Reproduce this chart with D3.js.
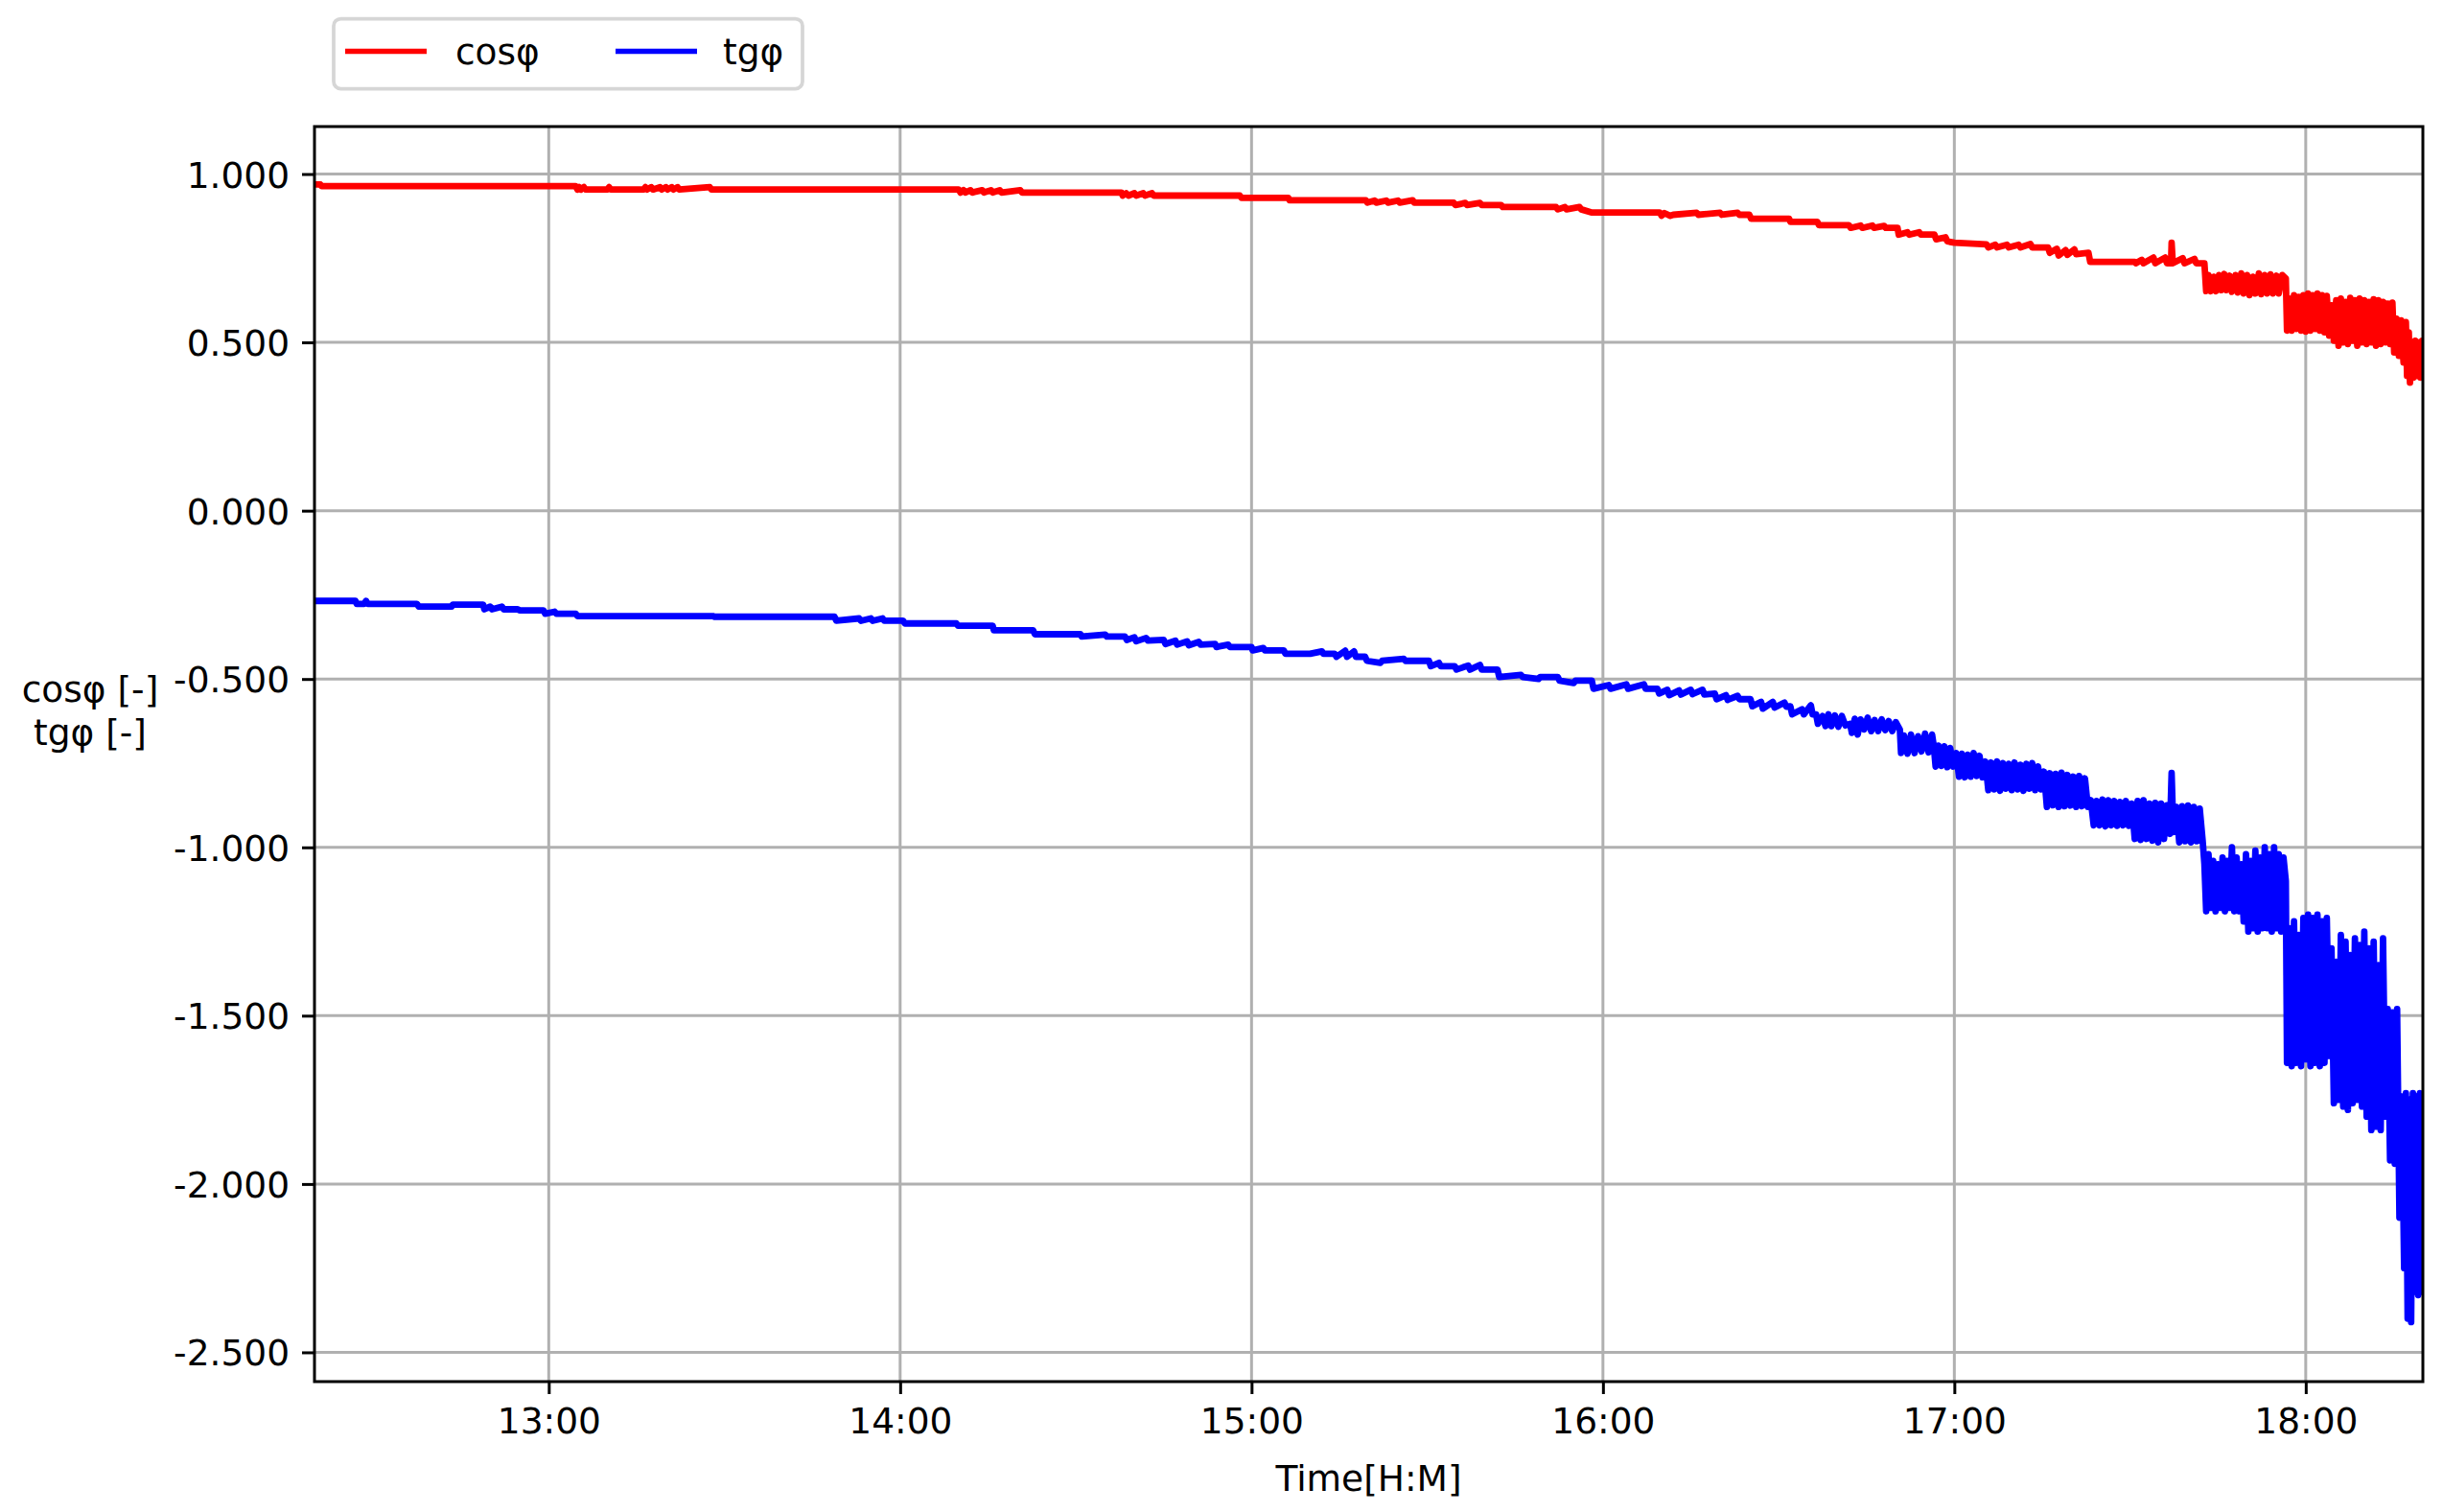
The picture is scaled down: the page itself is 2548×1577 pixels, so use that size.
<!DOCTYPE html>
<html>
<head>
<meta charset="utf-8">
<script src="https://cdn.jsdelivr.net/npm/d3@7"></script>
<style>
  html, body { margin: 0; padding: 0; background: #ffffff; }
  svg { display: block; }
  text { font-family: "DejaVu Sans", sans-serif; }
</style>
</head>
<body>
<svg id="chart" width="2548" height="1577"></svg>
<script>
// ---- DATA (time = minutes after 12:00, value) ----
const seriesNames = ["cosφ", "tgφ"];
const xTickLabels = ["13:00", "14:00", "15:00", "16:00", "17:00", "18:00"];
const yTickValues = [1.0, 0.5, 0.0, -0.5, -1.0, -1.5, -2.0, -2.5];
const timeRange = ["12:20", "18:20"];
const yLabelLines = ["cosφ [-]", "tgφ [-]"];
const xLabel = "Time[H:M]";

const cosPoints = [
[20,0.969],[21,0.969],[21.2,0.964],[64.6,0.964],[64.9,0.954],[65.2,0.961],[65.5,0.954],[66,0.961],[66.3,0.954],[70,0.954],[70.3,0.961],[70.6,0.954],
[76.2,0.954],[76.5,0.961],[76.8,0.954],[77.5,0.961],[77.8,0.954],[79,0.961],[79.3,0.954],[80,0.961],[80.3,0.954],[81,0.961],[81.3,0.954],[82,0.961],[82.3,0.954],[87.5,0.961],[87.8,0.954],
[130,0.954],[130.3,0.945],[130.8,0.952],[131.1,0.945],[132,0.952],[132.3,0.945],[134,0.952],[134.3,0.945],[135.5,0.952],[135.8,0.945],[137,0.952],[137.3,0.945],[140.5,0.952],[140.8,0.945],
[157.8,0.945],[158,0.936],[158.6,0.943],[159,0.936],[160,0.943],[160.3,0.936],[161.5,0.943],[161.8,0.936],[163,0.943],[163.3,0.936],[178,0.936],[178.3,0.929],
[186.3,0.929],[186.5,0.922],[199.5,0.922],[199.8,0.915],[201,0.921],[201.3,0.915],[203,0.921],[203.3,0.915],[205,0.921],[205.3,0.915],[207.5,0.922],[207.8,0.915],
[214.5,0.915],[214.8,0.908],[216.5,0.914],[216.8,0.908],[219,0.914],[219.3,0.908],[222.6,0.908],[222.9,0.902],[232,0.902],[232.3,0.895],[233.5,0.902],[233.8,0.895],[236,0.902],[236.3,0.895],[238,0.886],
[249.7,0.886],[250,0.876],[250.5,0.884],[251.5,0.876],[252,0.879],[256,0.885],[256.3,0.879],[260,0.885],[260.3,0.879],[263,0.885],[263.3,0.879],[265,0.879],[265.3,0.867],
[271.8,0.867],[272,0.858],[276.6,0.858],[276.9,0.848],[282,0.848],[282.3,0.840],[284,0.847],[284.3,0.840],[286,0.847],[286.3,0.840],[288,0.846],[288.3,0.840],[290.3,0.840],
[290.5,0.820],[292,0.827],[292.3,0.820],[294,0.827],[294.3,0.820],[296.6,0.820],[296.9,0.806],[298.5,0.812],[298.8,0.800],[300,0.796],[305.5,0.791],[305.8,0.782],
[307,0.790],[307.3,0.782],[309,0.790],[309.3,0.782],[311,0.790],[311.3,0.782],[313,0.792],[313.3,0.782],[316,0.782],[316.3,0.766],[317.5,0.778],[317.8,0.758],[319,0.774],[319.3,0.760],[320.5,0.776],[320.8,0.762],
[322.9,0.766],[323.2,0.739],[330.8,0.739],[331,0.735],[332,0.745],[332.3,0.735],[334,0.752],[334.3,0.735],[336,0.752],[336.3,0.735],[337,0.735],[337.1,0.796],[337.3,0.735],[339,0.750],[339.3,0.735],[341,0.748],[341.3,0.735],[342.7,0.735],
[343,0.652],[343.4,0.700],[343.8,0.652],[344.3,0.695],[344.7,0.652],[345.2,0.700],[345.6,0.655],[346.1,0.703],[346.5,0.655],[347,0.698],[347.4,0.650],[348,0.700],[348.4,0.648],[349,0.705],[349.4,0.645],
[350,0.700],[350.4,0.640],[351,0.695],[351.4,0.645],[352,0.705],[352.4,0.643],[353,0.700],[353.4,0.645],[354,0.702],[354.4,0.645],[355,0.698],[355.4,0.645],[356,0.700],[356.6,0.690],
[356.8,0.535],[357.2,0.630],[357.6,0.535],[358,0.640],[358.4,0.540],[358.8,0.635],[359.2,0.535],[359.6,0.640],[360,0.532],[360.4,0.645],[360.8,0.535],[361.2,0.640],[361.6,0.540],[362,0.645],[362.4,0.535],[362.8,0.640],
[363.2,0.530],[363.6,0.638],[364,0.520],[364.4,0.610],[364.8,0.505],[365.2,0.625],[365.6,0.490],[366,0.630],[366.4,0.500],[366.8,0.620],[367.2,0.495],[367.6,0.632],[368,0.505],[368.4,0.625],[368.8,0.490],[369.2,0.630],
[369.6,0.500],[370,0.625],[370.4,0.495],[370.8,0.620],[371.2,0.500],[371.6,0.628],[372,0.490],[372.4,0.625],[372.8,0.495],[373.2,0.620],[373.6,0.500],[374,0.615],[374.4,0.495],[374.8,0.618],
[375.1,0.470],[375.5,0.570],[375.9,0.460],[376.3,0.565],[376.7,0.440],[377.1,0.560],[377.3,0.400],[377.6,0.530],[377.8,0.380],[378.1,0.500],[378.4,0.395],[378.7,0.505],[379,0.400],[379.3,0.500],[379.6,0.395],[379.9,0.505],[380,0.450]
];

const tgPoints = [
[20,-0.268],[27,-0.268],[27.2,-0.277],[28.5,-0.277],[28.8,-0.268],[29.1,-0.277],[37.5,-0.277],[37.8,-0.285],[43.4,-0.285],[43.6,-0.279],[48.8,-0.279],[49,-0.293],[50,-0.285],[50.3,-0.293],[52,-0.285],[52.3,-0.293],
[54.7,-0.293],[55,-0.296],[59.1,-0.296],[59.4,-0.306],[61,-0.300],[61.3,-0.306],[64.6,-0.306],[64.9,-0.313],[88,-0.313],[88.3,-0.315],[108.8,-0.315],[109.1,-0.327],[113,-0.320],[113.3,-0.327],[115,-0.320],[115.3,-0.327],
[117,-0.320],[117.3,-0.327],[120.5,-0.327],[120.8,-0.335],[129.6,-0.335],[129.9,-0.342],[135.8,-0.342],[136,-0.355],[142.7,-0.355],[143,-0.367],[150.8,-0.367],[151,-0.374],[155,-0.368],[155.3,-0.374],
[158.4,-0.374],[158.7,-0.384],[160,-0.376],[160.3,-0.388],[162,-0.378],[162.3,-0.386],[165,-0.384],[165.3,-0.396],[167,-0.386],[167.3,-0.398],[169,-0.388],[169.3,-0.400],[171,-0.390],[171.3,-0.398],
[173.8,-0.396],[174,-0.405],[176,-0.398],[176.3,-0.405],[180,-0.405],[180.2,-0.415],[182,-0.408],[182.3,-0.415],[185.5,-0.415],[185.8,-0.425],[190,-0.425],[192,-0.418],[192.3,-0.425],[194.2,-0.425],
[194.5,-0.434],[196,-0.416],[196.3,-0.434],[197.5,-0.418],[197.8,-0.434],[199.4,-0.434],[199.7,-0.446],[202,-0.452],[202.3,-0.446],[206,-0.440],[206.3,-0.446],[210.3,-0.446],[210.6,-0.462],[212,-0.452],[212.3,-0.462],
[214.7,-0.462],[215,-0.472],[217,-0.460],[217.3,-0.472],[219,-0.458],[219.3,-0.472],[222,-0.472],[222.3,-0.494],[226,-0.488],[226.3,-0.494],[229,-0.500],[229.3,-0.494],[232.3,-0.494],[232.6,-0.505],
[235,-0.512],[235.3,-0.505],[238.1,-0.505],[238.4,-0.529],[241,-0.518],[241.3,-0.529],[244,-0.516],[244.3,-0.529],[247,-0.516],[247.3,-0.529],[249.3,-0.529],[249.6,-0.543],[251,-0.532],[251.3,-0.548],
[253,-0.534],[253.3,-0.546],[255,-0.532],[255.3,-0.545],[257,-0.532],[257.3,-0.546],[259.1,-0.543],[259.4,-0.560],[261,-0.548],[261.3,-0.562],[263,-0.550],[263.3,-0.560],[265.2,-0.560],[265.5,-0.581],
[267,-0.568],[267.3,-0.588],[269,-0.568],[269.3,-0.585],[271,-0.570],[271.3,-0.582],[272,-0.581],[272.3,-0.605],[274,-0.590],[274.3,-0.605],[275.5,-0.578],[275.8,-0.605],[276.4,-0.605],[276.7,-0.633],
[277.5,-0.610],[278,-0.640],[278.5,-0.605],[279,-0.640],[279.6,-0.608],[280.2,-0.642],[280.8,-0.610],[281.4,-0.638],[282.2,-0.633],[282.5,-0.660],[283,-0.618],[283.5,-0.665],[284,-0.620],[284.6,-0.650],
[285.2,-0.615],[285.8,-0.655],[286.4,-0.622],[287,-0.655],[287.6,-0.620],[288.2,-0.652],[288.8,-0.625],[289.4,-0.655],[290,-0.628],[290.7,-0.650],[290.9,-0.720],[291.4,-0.668],[292,-0.722],[292.6,-0.665],
[293.2,-0.720],[293.8,-0.670],[294.4,-0.715],[295,-0.662],[295.6,-0.718],[296.2,-0.665],[296.5,-0.700],[296.8,-0.760],[297.3,-0.698],[297.8,-0.758],[298.3,-0.700],[298.8,-0.762],[299.3,-0.705],[299.8,-0.760],
[300.3,-0.720],[300.8,-0.790],[301.3,-0.722],[301.8,-0.792],[302.3,-0.725],[302.8,-0.790],[303.3,-0.720],[303.8,-0.788],[304.3,-0.728],[304.8,-0.792],[305.3,-0.745],[305.8,-0.830],[306.3,-0.748],[306.8,-0.828],
[307.3,-0.745],[307.8,-0.832],[308.3,-0.750],[308.8,-0.826],[309.3,-0.752],[309.8,-0.830],[310.3,-0.748],[310.8,-0.828],[311.3,-0.755],[311.8,-0.832],[312.3,-0.752],[312.8,-0.826],[313.3,-0.750],[313.8,-0.830],
[314.3,-0.760],[314.8,-0.828],[315.3,-0.775],[315.8,-0.880],[316.3,-0.780],[316.8,-0.875],[317.3,-0.782],[317.8,-0.880],[318.3,-0.778],[318.8,-0.878],[319.3,-0.785],[319.8,-0.876],[320.3,-0.790],[320.8,-0.880],
[321.3,-0.788],[321.8,-0.878],[322.3,-0.795],[322.8,-0.880],[323.3,-0.860],[323.8,-0.935],[324.3,-0.862],[324.8,-0.935],[325.3,-0.858],[325.8,-0.938],[326.3,-0.860],[326.8,-0.935],[327.3,-0.862],[327.8,-0.936],
[328.3,-0.865],[328.8,-0.935],[329.3,-0.862],[329.8,-0.936],[330.3,-0.870],[330.8,-0.975],[331.3,-0.862],[331.8,-0.978],[332.3,-0.860],[332.8,-0.975],[333.3,-0.870],[333.8,-0.980],[334.3,-0.868],[334.8,-0.985],
[335.3,-0.870],[335.8,-0.975],[336.3,-0.875],[336.8,-0.960],[337.1,-0.779],[337.4,-0.955],[337.9,-0.880],[338.4,-0.985],[338.9,-0.878],[339.4,-0.982],[339.9,-0.876],[340.4,-0.985],[340.9,-0.880],[341.4,-0.982],
[341.9,-0.885],[342.4,-0.980],[342.7,-1.05],[343,-1.19],[343.4,-1.02],[343.8,-1.18],[344.2,-1.04],[344.6,-1.19],[345,-1.05],[345.4,-1.18],[345.8,-1.03],[346.2,-1.19],[346.6,-1.04],[347,-1.18],[347.4,-1.00],
[347.8,-1.19],[348.2,-1.03],[348.6,-1.19],[349,-1.05],[349.4,-1.22],[349.8,-1.02],[350.2,-1.25],[350.6,-1.04],[351,-1.24],[351.4,-1.01],[351.8,-1.25],[352.2,-1.03],[352.6,-1.24],[353,-1.00],[353.4,-1.24],
[353.8,-1.02],[354.2,-1.25],[354.6,-1.00],[355,-1.24],[355.4,-1.02],[355.8,-1.25],[356.2,-1.03],[356.6,-1.10],[356.8,-1.64],[357.2,-1.24],[357.6,-1.65],[358,-1.22],[358.4,-1.64],[358.8,-1.26],[359.2,-1.65],
[359.6,-1.21],[360,-1.63],[360.4,-1.20],[360.8,-1.65],[361.2,-1.21],[361.6,-1.64],[362,-1.20],[362.4,-1.65],[362.8,-1.22],[363.2,-1.64],[363.6,-1.21],[364,-1.62],[364.4,-1.30],[364.8,-1.76],[365.2,-1.34],
[365.6,-1.75],[366,-1.26],[366.4,-1.77],[366.8,-1.28],[367.2,-1.78],[367.6,-1.32],[368,-1.76],[368.4,-1.27],[368.8,-1.75],[369.2,-1.29],[369.6,-1.77],[370,-1.25],[370.4,-1.80],[370.8,-1.30],[371.2,-1.84],
[371.6,-1.28],[372,-1.83],[372.4,-1.35],[372.8,-1.84],[373.2,-1.27],[373.6,-1.80],[374,-1.48],[374.4,-1.93],[374.8,-1.49],[375.2,-1.94],[375.6,-1.48],[376,-2.10],[376.4,-1.74],[376.8,-2.25],[377.1,-1.73],
[377.4,-2.40],[377.7,-1.75],[378,-2.41],[378.3,-1.73],[378.6,-2.32],[378.9,-1.74],[379.2,-2.33],[379.5,-1.73],[379.8,-2.32],[380,-1.75]
];

const seriesColors = ["#ff0000", "#0000ff"];

// ---- RENDERING ----
const plot = { left: 328, top: 132, right: 2527, bottom: 1441 };
const svg = d3.select("#chart");

const base = new Date(2024, 0, 1, 12, 0, 0);
const toDate = m => new Date(base.getTime() + m * 60000);
const parseHM = s => { const [h, m] = s.split(":").map(Number); return (h - 12) * 60 + m; };

const x = d3.scaleTime()
  .domain(timeRange.map(s => toDate(parseHM(s))))
  .range([plot.left, plot.right]);
const y = d3.scaleLinear()
  .domain([-2.587, 1.141])
  .range([plot.bottom, plot.top]);

const FS = 37.5;
const gridColor = "#b0b0b0";

svg.append("defs").append("clipPath").attr("id", "clip")
  .append("rect").attr("x", plot.left).attr("y", plot.top)
  .attr("width", plot.right - plot.left).attr("height", plot.bottom - plot.top);

const xTickDates = xTickLabels.map(s => toDate(parseHM(s)));

// grid
const grid = svg.append("g");
grid.selectAll("line.gx").data(xTickDates).enter().append("line")
  .attr("x1", d => x(d)).attr("x2", d => x(d))
  .attr("y1", plot.top).attr("y2", plot.bottom)
  .attr("stroke", gridColor).attr("stroke-width", 3);
grid.selectAll("line.gy").data(yTickValues).enter().append("line")
  .attr("y1", d => y(d)).attr("y2", d => y(d))
  .attr("x1", plot.left).attr("x2", plot.right)
  .attr("stroke", gridColor).attr("stroke-width", 3);

// lines
const line = d3.line().x(d => x(toDate(d[0]))).y(d => y(d[1]));
const lines = svg.append("g").attr("clip-path", "url(#clip)");
[cosPoints, tgPoints].forEach((pts, i) => {
  lines.append("path").datum(pts)
    .attr("d", line)
    .attr("fill", "none")
    .attr("stroke", seriesColors[i])
    .attr("stroke-width", 6.8)
    .attr("stroke-linejoin", "round")
    .attr("stroke-linecap", "round");
});

// axes
const xAxis = d3.axisBottom(x).tickValues(xTickDates)
  .tickFormat((d, i) => xTickLabels[i]).tickSize(13).tickPadding(14);
const gx = svg.append("g").attr("transform", `translate(0,${plot.bottom})`).call(xAxis);
const yAxis = d3.axisLeft(y).tickValues(yTickValues)
  .tickFormat(d => d3.format(".3f")(d).replace("−", "-")).tickSize(13).tickPadding(13);
const gy = svg.append("g").attr("transform", `translate(${plot.left},0)`).call(yAxis);
[gx, gy].forEach(g => {
  g.select(".domain").remove();
  g.selectAll(".tick line").attr("stroke", "#000").attr("stroke-width", 3);
  g.selectAll(".tick text").attr("font-family", "DejaVu Sans").attr("font-size", FS).attr("fill", "#000");
});
gx.selectAll(".tick text").attr("dy", "0.71em");
gy.selectAll(".tick text").attr("dy", "0.36em");

// frame
svg.append("rect").attr("x", plot.left).attr("y", plot.top)
  .attr("width", plot.right - plot.left).attr("height", plot.bottom - plot.top)
  .attr("fill", "none").attr("stroke", "#000").attr("stroke-width", 3);

// axis labels
svg.append("text").attr("x", (plot.left + plot.right) / 2).attr("y", 1555)
  .attr("text-anchor", "middle").attr("font-size", FS).text(xLabel);
const yl = svg.append("text").attr("text-anchor", "middle").attr("font-size", FS);
yLabelLines.forEach((t, i) => {
  yl.append("tspan").attr("x", 94).attr("y", 732 + i * 45).text(t);
});

// legend
const lg = svg.append("g");
lg.append("rect").attr("x", 348).attr("y", 19.5).attr("width", 489).attr("height", 73)
  .attr("rx", 7.5).attr("fill", "#fff").attr("stroke", "#d6d6d6").attr("stroke-width", 3.75);
const legendItems = [
  { name: seriesNames[0], color: seriesColors[0], x0: 360, tx: 475 },
  { name: seriesNames[1], color: seriesColors[1], x0: 642, tx: 754 }
];
legendItems.forEach(it => {
  lg.append("line").attr("x1", it.x0).attr("x2", it.x0 + 85).attr("y1", 53.5).attr("y2", 53.5)
    .attr("stroke", it.color).attr("stroke-width", 5.6);
  lg.append("text").attr("x", it.tx).attr("y", 67).attr("font-size", FS).text(it.name);
});
</script>
</body>
</html>
